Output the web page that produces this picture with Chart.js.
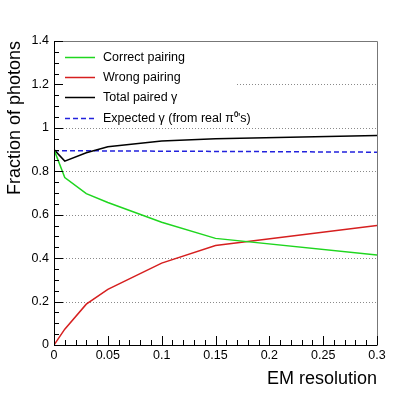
<!DOCTYPE html>
<html>
<head>
<meta charset="utf-8">
<script src="https://cdn.jsdelivr.net/npm/chart.js@4"></script>
<style>
  html, body { margin: 0; padding: 0; background: #fff; }
  #wrap { width: 419px; height: 397px; }
</style>
</head>
<body>
<div id="wrap"><canvas id="chart" width="419" height="397"></canvas></div>
<script>
// values
const resolution = [0, 0.01, 0.03, 0.05, 0.1, 0.15, 0.3];
const correctPairing = [0.9, 0.771, 0.697, 0.656, 0.565, 0.491, 0.415];
const wrongPairing = [0, 0.073, 0.188, 0.256, 0.377, 0.458, 0.55];
const totalPaired = [0.9, 0.847, 0.885, 0.913, 0.94, 0.95, 0.965];
const expectedX = [0, 0.3];
const expectedGamma = [0.895, 0.888];

const xMajor = [0, 0.05, 0.1, 0.15, 0.2, 0.25, 0.3];
const yMajor = [0, 0.2, 0.4, 0.6, 0.8, 1, 1.2, 1.4];

const FONT = "'Liberation Sans', Arial, Helvetica, sans-serif";

function pts(xs, ys) {
    return xs.map((x, i) => ({ x: x, y: ys[i] }));
}

// ROOT style frame, inward ticks, legend box
const rootFrame = {
    id: 'rootFrame',
    beforeDatasetsDraw(chart) {
        const ctx = chart.ctx;
        const a = chart.chartArea;
        const xs = chart.scales.x, ys = chart.scales.y;
        ctx.save();
        // dotted grid at y majors
        ctx.strokeStyle = '#8a8a8a';
        ctx.lineWidth = 1;
        ctx.setLineDash([1, 2]);
        yMajor.forEach(v => {
            if (v <= 0 || v >= 1.4) return;
            const y = Math.round(ys.getPixelForValue(v)) + 0.5;
            ctx.beginPath();
            ctx.moveTo(a.left, y);
            ctx.lineTo(a.right, y);
            ctx.stroke();
        });
        ctx.restore();
    },
    afterDatasetsDraw(chart) {
        const ctx = chart.ctx;
        const a = chart.chartArea;
        const xs = chart.scales.x, ys = chart.scales.y;
        ctx.save();
        // legend
        ctx.fillStyle = '#fff';
        ctx.fillRect(a.left + 1, a.top + 2, 180, 83);
        const rows = [57, 77, 97, 118];
        chart.data.datasets.forEach((ds, i) => {
            const y = rows[i] + 0.5;
            ctx.strokeStyle = ds.borderColor;
            ctx.lineWidth = ds.borderWidth;
            ctx.setLineDash(ds.borderDash || []);
            ctx.beginPath();
            ctx.moveTo(65, y);
            ctx.lineTo(95, y);
            ctx.stroke();
            ctx.setLineDash([]);
            ctx.fillStyle = '#000';
            ctx.font = '12.5px ' + FONT;
            ctx.textBaseline = 'middle';
            ctx.textAlign = 'left';
            ctx.fillText(ds.label, 103, rows[i] + 1);
        });

        // frame
        ctx.lineWidth = 1;
        ctx.strokeStyle = '#777';
        ctx.beginPath();
        ctx.moveTo(a.left, a.top + 0.5);
        ctx.lineTo(a.right + 0.5, a.top + 0.5);
        ctx.lineTo(a.right + 0.5, a.bottom);
        ctx.stroke();
        ctx.strokeStyle = '#000';
        ctx.beginPath();
        ctx.moveTo(a.left + 0.5, a.top);
        ctx.lineTo(a.left + 0.5, a.bottom + 0.5);
        ctx.lineTo(a.right + 0.5, a.bottom + 0.5);
        ctx.stroke();

        // ticks
        ctx.beginPath();
        for (let k = 0; k <= 30; k++) {
            const v = k / 100;
            const x = Math.round(xs.getPixelForValue(v)) + 0.5;
            const len = (k % 5 === 0) ? 9 : 5;
            ctx.moveTo(x, a.bottom);
            ctx.lineTo(x, a.bottom - len);
        }
        for (let k = 0; k <= 28; k++) {
            const v = k * 0.05;
            const y = Math.round(ys.getPixelForValue(v)) + 0.5;
            const len = (k % 4 === 0) ? 9 : 5;
            ctx.moveTo(a.left, y);
            ctx.lineTo(a.left + len, y);
        }
        ctx.stroke();
        ctx.restore();
    }
};

const ctx = document.getElementById('chart').getContext('2d');
new Chart(ctx, {
    type: 'line',
    data: {
        datasets: [{
            label: 'Correct pairing',
            data: pts(resolution, correctPairing),
            borderColor: '#1fd61f',
            borderWidth: 1.5
        }, {
            label: 'Wrong pairing',
            data: pts(resolution, wrongPairing),
            borderColor: '#d61f1f',
            borderWidth: 1.5
        }, {
            label: 'Total paired \u03b3',
            data: pts(resolution, totalPaired),
            borderColor: '#000',
            borderWidth: 1.5
        }, {
            label: 'Expected \u03b3 (from real \u03c0\u2070\'s)',
            data: pts(expectedX, expectedGamma),
            borderColor: '#2222dd',
            borderWidth: 1.5,
            borderDash: [5, 3]
        }]
    },
    options: {
        responsive: false,
        animation: false,
        devicePixelRatio: 1,
        layout: { padding: { left: 0, top: 41, right: 42, bottom: 7 } },
        elements: { point: { radius: 0 }, line: { tension: 0 } },
        plugins: { legend: { display: false }, tooltip: { enabled: false } },
        scales: {
            x: {
                type: 'linear',
                min: 0,
                max: 0.3,
                border: { display: false },
                grid: { display: false, drawTicks: false },
                afterBuildTicks: s => { s.ticks = xMajor.map(v => ({ value: v })); },
                afterFit: s => { s.height = 45; },
                ticks: {
                    padding: 3,
                    maxRotation: 0,
                    color: '#000',
                    font: { family: FONT, size: 12.5 },
                    callback: v => String(+v.toFixed(2))
                },
                title: {
                    display: true,
                    text: 'EM resolution',
                    align: 'end',
                    color: '#000',
                    padding: { top: 0, bottom: 0 },
                    font: { family: FONT, size: 18 }
                }
            },
            y: {
                type: 'linear',
                min: 0,
                max: 1.4,
                border: { display: false },
                grid: { display: false, drawTicks: false },
                afterBuildTicks: s => { s.ticks = yMajor.map(v => ({ value: v })); },
                afterFit: s => { s.width = 54; },
                ticks: {
                    padding: 5,
                    color: '#000',
                    font: { family: FONT, size: 12.5 },
                    callback: v => String(+v.toFixed(1))
                },
                title: {
                    display: true,
                    text: 'Fraction of photons',
                    align: 'end',
                    color: '#000',
                    padding: { top: 4, bottom: 0 },
                    font: { family: FONT, size: 18 }
                }
            }
        }
    },
    plugins: [rootFrame]
});
</script>
</body>
</html>
